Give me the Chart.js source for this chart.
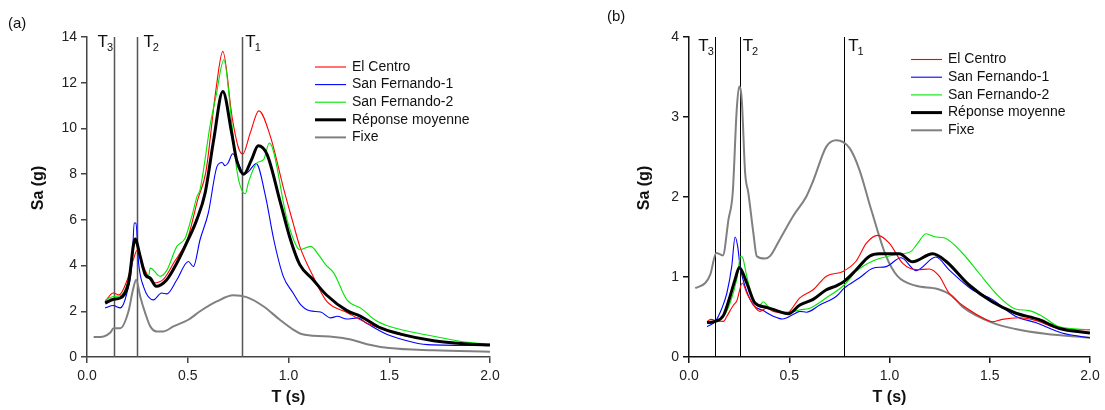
<!DOCTYPE html>
<html>
<head>
<meta charset="utf-8">
<script src="https://cdn.jsdelivr.net/npm/chart.js@4.4.1/dist/chart.umd.min.js"></script>
<style>
  html, body { margin: 0; padding: 0; background: #fff; }
  #wrap { position: relative; width: 1105px; height: 410px; }
  canvas { position: absolute; top: 0; }
</style>
</head>
<body>
<div id="wrap">
  <canvas id="chartA" width="552" height="410" style="left:0"></canvas>
  <canvas id="chartB" width="553" height="410" style="left:552px"></canvas>
</div>
<script>
const noms = ['El Centro', 'San Fernando-1', 'San Fernando-2', 'Réponse moyenne', 'Fixe'];
const ticksX = [0, 0.5, 1.0, 1.5, 2.0];

// (a) - valeurs
const aTCentro = [0.09,0.13,0.16,0.20,0.23,0.25,0.28,0.33,0.38,0.43,0.50,0.55,0.59,0.64,0.674,0.72,0.75,0.773,0.81,0.853,0.91,0.977,1.023,1.056,1.122,1.19,1.29,1.39,1.49,1.556,1.72,1.89,2.0];
const aSaCentro = [2.43,2.80,2.72,3.38,4.26,4.69,3.96,3.24,3.41,4.11,5.20,6.90,8.10,11.70,13.37,10.50,9.20,8.88,9.80,10.77,9.65,7.32,5.86,4.84,3.53,2.43,1.95,1.48,1.16,0.98,0.71,0.57,0.52];
const aTSf1 = [0.09,0.13,0.165,0.198,0.225,0.234,0.243,0.256,0.28,0.33,0.37,0.396,0.446,0.503,0.528,0.561,0.602,0.646,0.67,0.685,0.70,0.723,0.75,0.78,0.80,0.84,0.886,0.927,0.974,1.023,1.06,1.106,1.159,1.209,1.242,1.29,1.341,1.39,1.49,1.556,1.689,2.0];
const aSaSf1 = [2.15,2.25,2.15,2.80,4.26,5.86,5.86,4.11,3.09,2.50,2.80,2.76,3.38,4.18,3.96,5.13,6.30,8.35,8.51,8.37,8.49,8.89,8.50,8.00,8.10,8.46,7.03,5.13,3.53,2.80,2.29,2.02,1.97,1.71,1.78,1.66,1.71,1.46,0.98,0.79,0.54,0.50];
const aTSf2 = [0.09,0.13,0.165,0.206,0.239,0.256,0.28,0.305,0.314,0.363,0.396,0.446,0.487,0.52,0.546,0.561,0.613,0.64,0.679,0.72,0.745,0.786,0.80,0.843,0.876,0.905,0.993,1.04,1.056,1.11,1.155,1.184,1.225,1.29,1.358,1.44,1.556,1.72,1.888,2.0];
const aSaSf2 = [2.48,2.65,2.68,3.38,4.98,4.77,3.82,3.53,3.89,3.53,3.79,4.84,5.20,6.15,7.03,7.32,10.24,11.40,13.00,10.10,8.10,7.14,7.60,8.49,8.63,9.36,6.00,4.84,4.69,4.84,4.40,4.04,3.67,2.50,2.14,1.56,1.20,0.91,0.64,0.57];
const aTMoy = [0.09,0.132,0.165,0.206,0.239,0.264,0.289,0.314,0.343,0.396,0.446,0.495,0.545,0.586,0.629,0.674,0.718,0.743,0.778,0.815,0.85,0.894,0.96,1.01,1.056,1.122,1.19,1.29,1.358,1.457,1.556,1.72,1.888,2.0];
const aSaMoy = [2.36,2.53,2.58,3.24,5.16,4.40,3.60,3.45,3.09,3.38,4.11,5.00,6.01,7.17,9.52,11.62,9.80,8.60,8.00,8.60,9.24,8.85,6.74,5.13,4.04,3.38,2.70,2.03,1.78,1.27,1.00,0.71,0.57,0.52];
const aTFixe = [0.033,0.083,0.116,0.132,0.165,0.206,0.228,0.244,0.264,0.289,0.314,0.347,0.38,0.429,0.503,0.561,0.644,0.726,0.792,0.875,0.957,1.023,1.06,1.122,1.225,1.304,1.39,1.50,1.72,2.0];
const aSaFixe = [0.87,0.90,1.07,1.26,1.26,2.00,2.94,3.38,2.65,1.92,1.34,1.12,1.12,1.34,1.63,2.00,2.43,2.70,2.62,2.22,1.63,1.20,1.02,0.93,0.88,0.78,0.56,0.39,0.29,0.23];
const aPeriodes = [0.132, 0.25, 0.771];
const ticksYa = [0, 2, 4, 6, 8, 10, 12, 14];

// (b)
const bTCentro = [0.09,0.11,0.14,0.172,0.189,0.222,0.238,0.266,0.288,0.321,0.354,0.387,0.42,0.487,0.553,0.619,0.685,0.768,0.834,0.884,0.941,1.0,1.066,1.14,1.198,1.248,1.297,1.397,1.48,1.512,1.562,1.645,1.711,1.86,2.0];
const bSaCentro = [0.445,0.47,0.45,0.445,0.51,0.65,0.70,0.925,0.80,0.65,0.57,0.61,0.57,0.55,0.74,0.84,1.01,1.07,1.20,1.42,1.52,1.42,1.17,1.09,1.10,1.01,0.80,0.59,0.47,0.44,0.47,0.49,0.47,0.35,0.34];
const bTSf1 = [0.09,0.131,0.164,0.189,0.213,0.23,0.243,0.255,0.28,0.321,0.37,0.42,0.467,0.519,0.553,0.586,0.652,0.735,0.774,0.851,0.917,0.983,1.058,1.132,1.231,1.297,1.413,1.512,1.628,1.728,1.86,2.0];
const bSaSf1 = [0.38,0.445,0.61,0.80,1.13,1.50,1.38,1.13,0.88,0.65,0.58,0.51,0.475,0.53,0.57,0.56,0.65,0.76,0.86,0.99,1.11,1.13,1.24,1.08,1.25,1.09,0.84,0.72,0.51,0.43,0.30,0.24];
const bTSf2 = [0.09,0.172,0.205,0.238,0.258,0.268,0.288,0.321,0.354,0.37,0.395,0.453,0.503,0.553,0.602,0.685,0.774,0.834,0.917,1.033,1.107,1.14,1.182,1.231,1.272,1.363,1.446,1.529,1.628,1.695,1.761,1.844,2.0];
const bSaSf2 = [0.425,0.51,0.675,0.97,1.26,1.24,1.01,0.715,0.65,0.69,0.63,0.57,0.56,0.59,0.61,0.74,0.90,1.07,1.20,1.28,1.32,1.42,1.54,1.50,1.49,1.30,1.05,0.80,0.60,0.58,0.51,0.38,0.34];
const bTMoy = [0.09,0.131,0.172,0.205,0.23,0.251,0.288,0.329,0.387,0.437,0.495,0.553,0.619,0.685,0.735,0.774,0.834,0.9,0.95,1.049,1.115,1.215,1.28,1.397,1.512,1.628,1.744,1.844,2.0];
const bSaMoy = [0.43,0.445,0.52,0.76,0.97,1.12,0.925,0.675,0.62,0.58,0.54,0.65,0.72,0.84,0.89,0.945,1.09,1.26,1.29,1.29,1.19,1.29,1.20,0.90,0.69,0.55,0.47,0.36,0.30];
const bTFixe = [0.031,0.081,0.106,0.136,0.169,0.197,0.218,0.238,0.25,0.263,0.28,0.296,0.321,0.338,0.379,0.404,0.453,0.519,0.586,0.619,0.685,0.735,0.801,0.85,0.909,0.983,1.04,1.132,1.24,1.314,1.363,1.512,1.628,1.777,2.0];
const bSaFixe = [0.86,0.925,1.03,1.30,1.27,1.72,2.05,3.09,3.38,3.22,2.30,2.05,1.55,1.26,1.23,1.26,1.47,1.76,2.01,2.20,2.63,2.71,2.61,2.34,1.84,1.26,1.01,0.89,0.85,0.76,0.63,0.43,0.35,0.29,0.24];
const bPeriodes = [0.131, 0.253, 0.774];
const ticksYb = [0, 1, 2, 3, 4];

const indices = ['3', '2', '1'];
const police = "'Liberation Sans', Arial, sans-serif";

function points(ts, vals) {
  return ts.map((t, i) => ({ x: t, y: vals[i] }));
}

function series(centro, sf1, sf2, moy, fixe) {
  const styles = [
    { color: '#ff0000', w: 1.1, order: 2 },
    { color: '#0000ff', w: 1.1, order: 3 },
    { color: '#00e600', w: 1.1, order: 1 },
    { color: '#000000', w: 3, order: 0 },
    { color: '#808080', w: 2, order: 4 }
  ];
  return [centro, sf1, sf2, moy, fixe].map((d, i) => ({
    label: noms[i],
    data: d,
    borderColor: styles[i].color,
    borderWidth: styles[i].w,
    order: styles[i].order,
    pointRadius: 0,
    fill: false,
    cubicInterpolationMode: 'monotone'
  }));
}

// lignes T, legende, titres
const deco = {
  id: 'deco',
  beforeDatasetsDraw(chart, args, o) {
    const { ctx, chartArea, scales } = chart;
    ctx.save();
    ctx.strokeStyle = o.tColor;
    ctx.lineWidth = o.tWidth;
    o.periodes.forEach(p => {
      const x = Math.round(scales.x.getPixelForValue(p)) + 0.5;
      ctx.beginPath();
      ctx.moveTo(x, chartArea.top);
      ctx.lineTo(x, chartArea.bottom);
      ctx.stroke();
    });
    ctx.restore();
  },
  afterDraw(chart, args, o) {
    const { ctx, chartArea, scales } = chart;
    ctx.save();
    ctx.fillStyle = '#111';
    ctx.textAlign = 'left';
    ctx.textBaseline = 'alphabetic';
    o.periodes.forEach((p, i) => {
      const x = scales.x.getPixelForValue(p) + o.tDx[i];
      ctx.font = '17px ' + police;
      ctx.fillText('T', x, o.tY);
      const w = ctx.measureText('T').width;
      ctx.font = '11px ' + police;
      ctx.fillText(indices[i], x + w - 1, o.tY + 4);
    });

    // legende
    chart.data.datasets.forEach((ds, i) => {
      const y = o.legY + i * o.legDy;
      ctx.strokeStyle = ds.borderColor;
      ctx.lineWidth = ds.borderWidth;
      ctx.beginPath();
      ctx.moveTo(o.legX, y);
      ctx.lineTo(o.legX + 31, y);
      ctx.stroke();
      ctx.font = '14px ' + police;
      ctx.textBaseline = 'middle';
      ctx.fillText(ds.label, o.legX + 37, y);
    });

    // titres des axes
    ctx.font = 'bold 16px ' + police;
    ctx.textAlign = 'center';
    ctx.textBaseline = 'middle';
    ctx.fillText('T (s)', (chartArea.left + chartArea.right) / 2, 398);
    ctx.save();
    ctx.translate(o.yTitleX, 188);
    ctx.rotate(-Math.PI / 2);
    ctx.fillText('Sa (g)', 0, 0);
    ctx.restore();

    ctx.font = '15px ' + police;
    ctx.textAlign = 'left';
    ctx.fillText(o.panneau, o.panX, o.panY);
    ctx.restore();
  }
};

function options(ymax, ticksY, axe, d) {
  const tickFont = { family: police, size: 14 };
  return {
    responsive: false,
    animation: false,
    devicePixelRatio: 1,
    layout: { padding: d.padding },
    plugins: {
      legend: { display: false },
      tooltip: { enabled: false },
      deco: d
    },
    scales: {
      x: {
        type: 'linear',
        min: 0,
        max: 2,
        afterBuildTicks: s => { s.ticks = ticksX.map(v => ({ value: v })); },
        afterFit: s => { s.height = 53; },
        ticks: { color: '#222', font: tickFont, padding: 5, maxRotation: 0, callback: v => v.toFixed(1) },
        grid: { display: true, drawOnChartArea: false, drawTicks: true, tickLength: 6, color: axe, lineWidth: 1.5 },
        border: { display: true, color: axe, width: 1.5 }
      },
      y: {
        type: 'linear',
        min: 0,
        max: ymax,
        afterBuildTicks: s => { s.ticks = ticksY.map(v => ({ value: v })); },
        afterFit: s => { s.width = d.yWidth; },
        ticks: { color: '#222', font: tickFont, padding: 4 },
        grid: { display: true, drawOnChartArea: false, drawTicks: true, tickLength: 6, color: axe, lineWidth: 1.5 },
        border: { display: true, color: axe, width: 1.5 }
      }
    }
  };
}

new Chart(document.getElementById('chartA').getContext('2d'), {
  type: 'line',
  data: {
    datasets: series(
      points(aTCentro, aSaCentro), points(aTSf1, aSaSf1), points(aTSf2, aSaSf2),
      points(aTMoy, aSaMoy), points(aTFixe, aSaFixe))
  },
  options: options(14, ticksYa, '#444', {
    padding: { left: 0, right: 62, top: 37, bottom: 0 },
    yWidth: 87,
    periodes: aPeriodes,
    tColor: '#555',
    tWidth: 1.5,
    tDx: [-16, 6, 3],
    tY: 47,
    legX: 315,
    legY: 67,
    legDy: 17.6,
    yTitleX: 39,
    panneau: '(a)',
    panX: 8,
    panY: 24
  }),
  plugins: [deco]
});

new Chart(document.getElementById('chartB').getContext('2d'), {
  type: 'line',
  data: {
    datasets: series(
      points(bTCentro, bSaCentro), points(bTSf1, bSaSf1), points(bTSf2, bSaSf2),
      points(bTMoy, bSaMoy), points(bTFixe, bSaFixe))
  },
  options: options(4, ticksYb, '#111', {
    padding: { left: 0, right: 15, top: 37, bottom: 0 },
    yWidth: 137,
    periodes: bPeriodes,
    tColor: '#000',
    tWidth: 1,
    tDx: [-17, 3, 4],
    tY: 51,
    legX: 359,
    legY: 59.5,
    legDy: 17.7,
    yTitleX: 93,
    panneau: '(b)',
    panX: 55,
    panY: 17
  }),
  plugins: [deco]
});
</script>
</body>
</html>
